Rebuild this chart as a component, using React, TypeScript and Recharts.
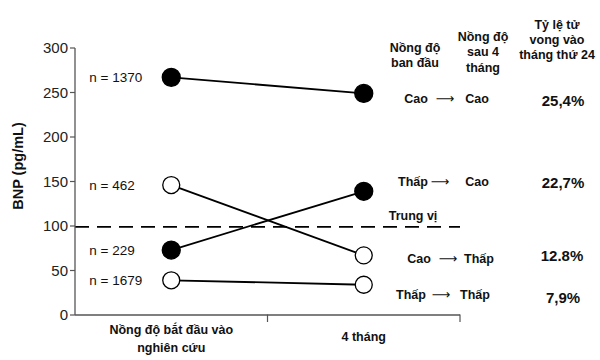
import React from 'react';
import { LineChart, Line, XAxis, YAxis, ReferenceLine, LabelList, Customized } from 'recharts';

const periods = ['Nồng độ bắt đầu vào nghiên cứu', '4 tháng'];
const periodPos = [0.5, 1.5];
const highHigh = [267, 249]; // n = 1370
const lowHigh = [73, 139]; // n = 229
const highLow = [146, 67]; // n = 462
const lowLow = [39, 34]; // n = 1679
const groupN = { highHigh: 'n = 1370', lowHigh: 'n = 229', highLow: 'n = 462', lowLow: 'n = 1679' };
const median = 99;
const yTicks = [0, 50, 100, 150, 200, 250, 300];
const xTicks = [0, 0.5, 1, 1.5, 2];

const data = periods.map((p, i) => ({
  t: periodPos[i],
  name: p,
  highHigh: highHigh[i],
  lowHigh: lowHigh[i],
  highLow: highLow[i],
  lowLow: lowLow[i],
}));

const FONT = '"Liberation Sans", Arial, sans-serif';

const makeDot = (filled: boolean) => (props: any) => {
  const { cx, cy, index, dataKey } = props;
  return (
    <circle
      key={`${dataKey}-${index}`}
      cx={cx}
      cy={cy}
      r={filled ? 9 : 8.5}
      fill={filled ? '#000' : '#fff'}
      stroke="#000"
      strokeWidth={1.3}
    />
  );
};

const nLabel = (text: string) => (props: any) => {
  const { x, y, index } = props;
  if (index !== 0) return null;
  return (
    <text key="nl" x={x - 82} y={y + 5} fontSize={13.5} fontFamily={FONT} fill="#111">
      {text}
    </text>
  );
};

const XTick = (props: any) => {
  const { x, y, payload } = props;
  const v = payload.value;
  if (v === 1 || v === 2) {
    return <line x1={x} y1={y - 0.5} x2={x} y2={y + 7} stroke="#555" strokeWidth={1.2} />;
  }
  if (v === 0.5) {
    return (
      <g>
        <text x={x} y={y + 19} textAnchor="middle" fontSize={12.5} fontWeight="bold" fontFamily={FONT} fill="#111">
          Nồng độ bắt đầu vào
        </text>
        <text x={x} y={y + 37} textAnchor="middle" fontSize={12.5} fontWeight="bold" fontFamily={FONT} fill="#111">
          nghiên cứu
        </text>
      </g>
    );
  }
  if (v === 1.5) {
    return (
      <text x={x} y={y + 26} textAnchor="middle" fontSize={12.5} fontWeight="bold" fontFamily={FONT} fill="#111">
        4 tháng
      </text>
    );
  }
  return null;
};

const headers = [
  { cx: 415, lines: ['Nồng độ', 'ban đầu'], y0: 47, dy: 15 },
  { cx: 483, lines: ['Nồng độ', 'sau 4', 'tháng'], y0: 36, dy: 15.5 },
  { cx: 557, lines: ['Tỷ lệ tử', 'vong vào', 'tháng thứ 24'], y0: 24, dy: 15 },
];

const rows = [
  { from: 'Cao', to: 'Cao', fx: 416, ax: 445, tx: 477, y: 98, pct: '25,4%', px: 563, py: 100 },
  { from: 'Thấp', to: 'Cao', fx: 413, ax: 440, tx: 477, y: 181, pct: '22,7%', px: 563, py: 182 },
  { from: 'Cao', to: 'Thấp', fx: 419, ax: 448, tx: 479, y: 258, pct: '12.8%', px: 562, py: 255 },
  { from: 'Thấp', to: 'Thấp', fx: 411, ax: 441, tx: 475, y: 294, pct: '7,9%', px: 563, py: 297 },
];

const Annotations = () => (
  <g fontFamily={FONT} fill="#111">
    {headers.map((h, i) => (
      <g key={i}>
        {h.lines.map((l, j) => (
          <text key={j} x={h.cx} y={h.y0 + j * h.dy + 4.5} textAnchor="middle" fontSize={12.5} fontWeight="bold">
            {l}
          </text>
        ))}
      </g>
    ))}
    {rows.map((r, i) => (
      <g key={i}>
        <text x={r.fx} y={r.y + 4.5} textAnchor="middle" fontSize={12.5} fontWeight="bold">{r.from}</text>
        <text x={r.ax} y={r.y + 4.5} textAnchor="middle" fontSize={13} fontFamily='"DejaVu Sans", sans-serif'>⟶</text>
        <text x={r.tx} y={r.y + 4.5} textAnchor="middle" fontSize={12.5} fontWeight="bold">{r.to}</text>
        <text x={r.px} y={r.py + 5.5} textAnchor="middle" fontSize={15} fontWeight="bold">{r.pct}</text>
      </g>
    ))}
    <text x={18} y={166} transform="rotate(-90 18 166)" textAnchor="middle" fontSize={14.5} fontWeight="bold" dominantBaseline="central">
      BNP (pg/mL)
    </text>
  </g>
);

const series = [
  { key: 'highHigh', filled: [true, true] },
  { key: 'highLow', filled: [false, false] },
  { key: 'lowHigh', filled: [true, true] },
  { key: 'lowLow', filled: [false, false] },
];

export default function App() {
  return (
    <div style={{ position: 'absolute', left: 0, top: 0, width: 600, height: 360, background: '#fff' }}>
      <LineChart width={600} height={360} data={data} margin={{ top: 48, right: 140, bottom: 0, left: 0 }}>
        <XAxis
          dataKey="t"
          type="number"
          domain={[0, 2]}
          ticks={xTicks}
          interval={0}
          tickLine={false}
          tickSize={0}
          tickMargin={0}
          tick={<XTick />}
          axisLine={{ stroke: '#555', strokeWidth: 1.3 }}
          height={45}
        />
        <YAxis
          type="number"
          domain={[0, 300]}
          ticks={yTicks}
          interval={0}
          width={75}
          tickSize={5}
          tickLine={{ stroke: '#555', strokeWidth: 1.2 }}
          axisLine={{ stroke: '#555', strokeWidth: 1.3 }}
          tick={{ fontSize: 15, fill: '#222', fontFamily: FONT }}
        />
        <ReferenceLine
          y={median}
          stroke="#000"
          strokeWidth={1.8}
          strokeDasharray="14 8"
          label={(p: any) => {
            const vb = p.viewBox || {};
            return (
              <text x={vb.x + vb.width - 47} y={vb.y - 7} textAnchor="middle" fontSize={12.5} fontWeight="bold" fontFamily={FONT} fill="#111">
                Trung vị
              </text>
            );
          }}
        />
        {series.map((s) => (
          <Line
            key={s.key}
            dataKey={s.key}
            stroke="#000"
            strokeWidth={1.8}
            isAnimationActive={false}
            dot={makeDot(s.filled[0])}
            activeDot={false}
          >
            <LabelList dataKey={s.key} content={nLabel((groupN as any)[s.key])} />
          </Line>
        ))}
        <Customized component={<Annotations />} />
      </LineChart>
    </div>
  );
}
